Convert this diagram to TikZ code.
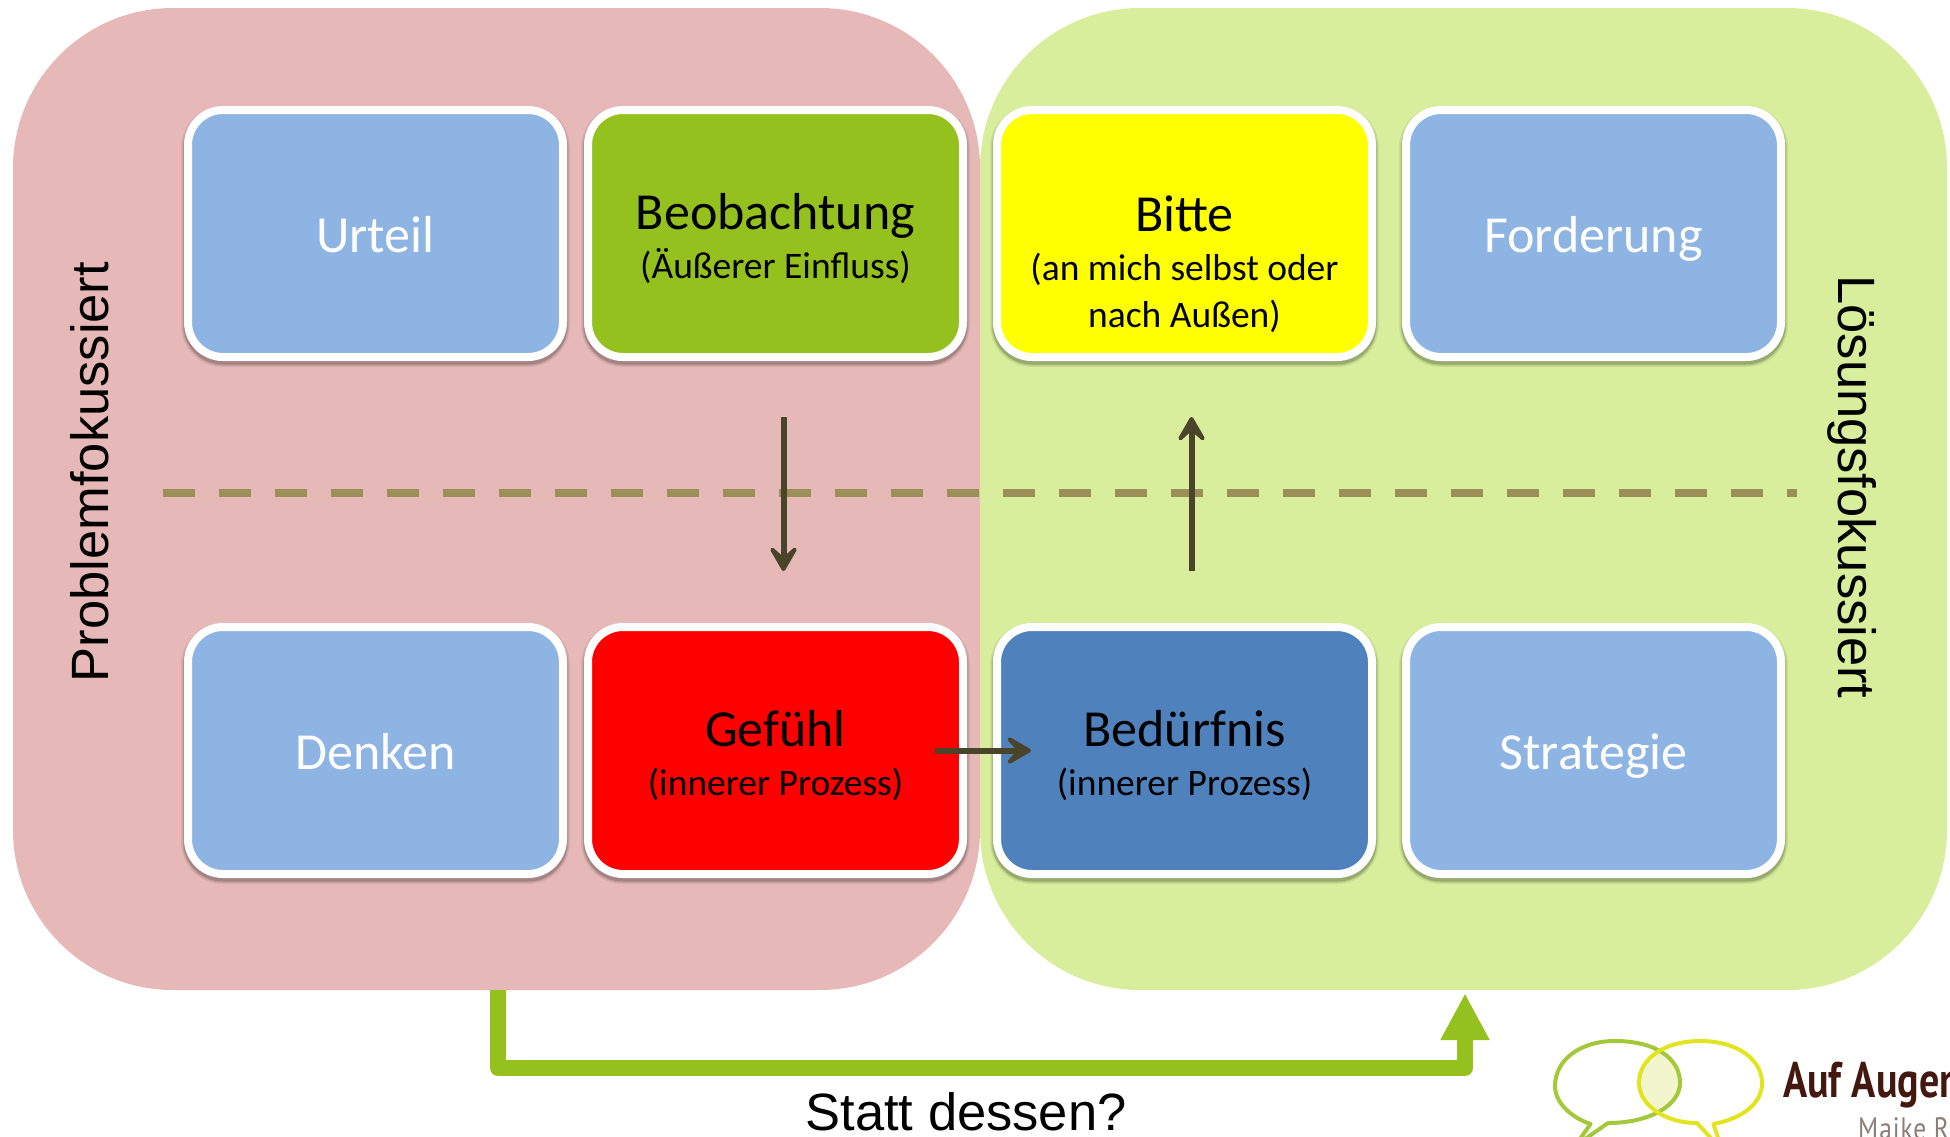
\documentclass[tikz,border=0pt]{standalone}
\usepackage{fontspec}
\setmainfont{Carlito}
\newfontfamily\arialf{Liberation Sans}
\newfontfamily\logof[FakeStretch=0.8]{PT Sans}
\newfontfamily\logog[LetterSpace=3,FakeStretch=0.82]{PT Sans}
\usetikzlibrary{arrows.meta,calc}
\definecolor{pinkbg}{HTML}{E6B8B7}
\definecolor{greenbg}{HTML}{D8EE9C}
\definecolor{lblue}{HTML}{8EB4E3}
\definecolor{dblue}{HTML}{4F81BD}
\definecolor{olive}{HTML}{95C11F}
\definecolor{arrowc}{HTML}{4A452A}
\definecolor{dashc}{HTML}{9C9058}
\definecolor{logoa}{HTML}{A3C83A}
\definecolor{logob}{HTML}{E1E41F}
\definecolor{logoc}{HTML}{F3F6CC}
\definecolor{logot}{HTML}{43190F}
\definecolor{logos}{HTML}{8C7D75}
\definecolor{pureyellow}{HTML}{FFFF00}
\definecolor{purered}{HTML}{FF0000}
\newcommand{\ttl}[1]{{\fontsize{52}{50}\selectfont #1}}
\newcommand{\bubbleA}{(1608,1123) .. controls (1650,1123) and (1680,1105) .. (1680,1083) .. controls (1680,1058) and (1655,1041) .. (1615,1041) .. controls (1580,1041) and (1555,1060) .. (1555,1086) .. controls (1555,1102) and (1570,1117) .. (1590.5,1124) -- (1575,1146) -- cycle}
\newcommand{\bubbleB}{(1697,1123) .. controls (1665,1123) and (1639,1105) .. (1639,1083) .. controls (1639,1058) and (1665,1041) .. (1700,1041) .. controls (1738,1041) and (1762,1060) .. (1762,1083) .. controls (1762,1105) and (1740,1119) .. (1713.5,1124) -- (1722,1150) -- cycle}
\tikzset{
  box/.style={rectangle,rounded corners=35pt,draw=white,line width=8pt,
    minimum width=375pt,minimum height=247pt,inner sep=0pt,align=center,
    font=\fontsize{37.5}{47}\selectfont,
    preaction={draw=black,draw opacity=.07,line width=14pt,transform canvas={yshift=-3pt}},
    preaction={draw=black,draw opacity=.10,line width=11pt,transform canvas={yshift=-3pt}},
    preaction={draw=black,draw opacity=.14,line width=9pt,transform canvas={yshift=-3pt}}},
  lightbox/.style={box,fill=lblue,text=white,font=\fontsize{52}{50}\selectfont,text height=45pt,text depth=8pt},
  zone/.style={rectangle,rounded corners=160pt,minimum width=967pt,minimum height=982pt,inner sep=0pt},
  flow/.style={draw=arrowc,line width=6pt,-{Stealth[length=33pt,width=38pt,inset=17pt,round]}},
  side/.style={font=\arialf\fontsize{52.5}{50}\selectfont,text=black},
}
\begin{document}
\begin{tikzpicture}[x=1pt,y=-1pt]
\useasboundingbox (0,0) rectangle (1950,1136);
\clip (0,0) rectangle (1950,1136);
\node[zone,fill=pinkbg] (prob) at (496.5,499) {};
\node[zone,fill=greenbg] (loes) at (1463.5,499) {};
\fill[greenbg] (980,300) rectangle (1100,700);
\fill[pinkbg] (860,300) rectangle (980,700);

\node[side,rotate=90] (lprob) at (90,472) {Problemfokussiert};
\node[side,rotate=270] (lloes) at (1852,487) {Lösungsfokussiert};

\coordinate (dl) at (163,493);
\coordinate (dr) at (1797,493);
\draw[dashc,line width=8pt,dash pattern=on 32pt off 24pt] (dl) -- (dr);

\node[lightbox] (urteil) at (375.5,233.5) {Urteil};
\node[box,fill=olive] (beob) at (775.5,233.5) {\rule{0pt}{47pt}\ttl{Beobachtung}\\[2pt](Äußerer Einfluss)};
\node[box,fill=pureyellow] (bitte) at (1184.5,233.5) {\rule{0pt}{98pt}\ttl{Bitte}\\[2pt](an mich selbst oder\\nach Außen)};
\node[lightbox] (ford) at (1593.5,233.5) {Forderung};
\node[lightbox] (denk) at (375.5,750.5) {Denken};
\node[box,fill=purered] (gef) at (775.5,750.5) {\rule{0pt}{47pt}\ttl{Gefühl}\\[2pt](innerer Prozess)};
\node[box,fill=dblue] (bed) at (1184.5,750.5) {\rule{0pt}{47pt}\ttl{Bedürfnis}\\[2pt](innerer Prozess)};
\node[lightbox] (strat) at (1593.5,750.5) {Strategie};

\coordinate (a1) at ([xshift=8pt,yshift=-56pt]beob.south);
\coordinate (a2) at ([xshift=8pt,yshift=52pt]gef.north);
\coordinate (b1) at ([xshift=7pt,yshift=52pt]bed.north);
\coordinate (b2) at ([xshift=7pt,yshift=-56pt]bitte.south);
\coordinate (c1) at ([xshift=-32pt]gef.east);
\coordinate (c2) at ([xshift=38pt]bed.west);
\draw[flow] (a1) -- (a2);
\draw[flow] (b1) -- (b2);
\draw[flow] (c1) -- (c2);

\coordinate (e1) at (prob.south -| 498,0);
\coordinate (e2) at (loes.south -| 1465,0);
\draw[draw=olive,line width=16pt,line join=round,-{Triangle[length=47pt,width=46pt]}]
  ([yshift=0pt]e1) -- (498,1068) -- (1465,1068) -- ([yshift=-3pt]e2);
\node[side,anchor=base] (statt) at (966,1130) {Statt dessen?};

\begin{scope}
\clip \bubbleA;
\fill[logoc] \bubbleB;
\end{scope}
\draw[logoa,line width=4pt,line join=round] \bubbleA;
\draw[logob,line width=4pt,line join=round] \bubbleB;
\node[anchor=base west,inner sep=0pt,text=logot,font=\logof\bfseries\fontsize{50}{50}\selectfont] (logo1) at (1783,1097) {Auf Augen};
\node[anchor=base west,inner sep=0pt,text=logos,font=\logog\fontsize{31}{31}\selectfont] (logo2) at (1858,1139) {Maike R};
\end{tikzpicture}
\end{document}
